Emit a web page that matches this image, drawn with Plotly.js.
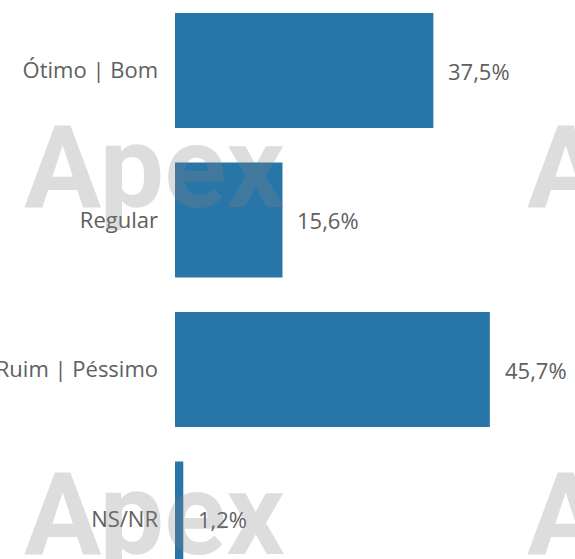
<!DOCTYPE html>
<html>
<head>
<meta charset="utf-8">
<script src="https://cdn.plot.ly/plotly-3.0.1.min.js"></script>
<style>
  html, body { margin: 0; padding: 0; background: #fff; }
  #myDiv { width: 575px; height: 559px; }
</style>
</head>
<body>
<div id="myDiv"></div>
<script>
var categorias = ['Ótimo | Bom', 'Regular', 'Ruim | Péssimo', 'NS/NR'];
var valores = [37.5, 15.6, 45.7, 1.2];

var corBarra = 'rgb(40, 118, 168)';
var corTexto = '#606060';

var trace1 = {
  type: 'bar',
  orientation: 'h',
  x: valores,
  y: categorias,
  marker: { color: corBarra },
  hoverinfo: 'none'
};

// rótulos de valor ao lado das barras
var anotacoes = valores.map(function (v, i) {
  return {
    x: v,
    y: categorias[i],
    xref: 'x',
    yref: 'y',
    text: v.toFixed(1).replace('.', ',') + '%',
    showarrow: false,
    xanchor: 'left',
    xshift: 13,
    font: { family: 'Open Sans', size: 22, color: corTexto }
  };
});

// marca d'agua "Apex"
var marcas = [[22, 168], [525, 168], [22, 514], [525, 514]];
marcas.forEach(function (m) {
  anotacoes.push({
    x: (m[0] - 175) / 400,
    y: 1 - m[1] / 559,
    xref: 'paper',
    yref: 'paper',
    text: 'Apex',
    showarrow: false,
    xanchor: 'left',
    yanchor: 'middle',
    font: { family: 'Roboto', size: 115, weight: 'bold', color: 'rgba(128,128,128,0.27)' }
  });
});

var layout = {
  width: 575,
  height: 559,
  margin: { l: 175, r: 0, t: 0, b: 0 },
  paper_bgcolor: '#fff',
  plot_bgcolor: '#fff',
  bargap: 0.23,
  showlegend: false,
  xaxis: {
    range: [0, 58.06],
    showgrid: false,
    zeroline: false,
    showticklabels: false,
    fixedrange: true
  },
  yaxis: {
    type: 'category',
    categoryorder: 'array',
    categoryarray: categorias,
    range: [3.2676, -0.4716],
    autorange: false,
    showgrid: false,
    zeroline: false,
    ticks: '',
    ticklabelstandoff: 16,
    tickfont: { family: 'Open Sans', size: 22, color: corTexto },
    fixedrange: true
  },
  annotations: anotacoes
};

Plotly.newPlot('myDiv', [trace1], layout, { displayModeBar: false, staticPlot: true });
</script>
</body>
</html>
